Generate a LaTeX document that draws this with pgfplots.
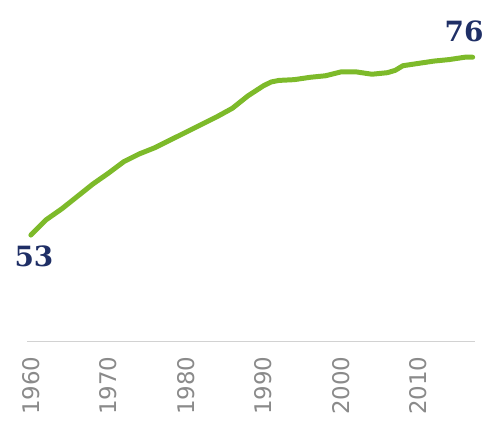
\documentclass[border=0pt]{standalone}
\usepackage{pgfplots}
\pgfplotsset{compat=1.18}
\usepackage{fontspec}
\setmainfont{DejaVu Sans}
\newfontfamily\numfont{DejaVu Serif}
\definecolor{lineg}{HTML}{7DBA2A}
\definecolor{navy}{HTML}{1F2F66}
\definecolor{lbl}{HTML}{8A8A8A}

\begin{document}
\begin{tikzpicture}
  \path[use as bounding box] (-27bp,-87bp) rectangle (462bp,341bp);
  \begin{axis}[
    at={(0,0)}, anchor=south west,
    scale only axis,
    width=448bp, height=341bp,
    xmin=1959.5, xmax=2017.3,
    ymin=39.3, ymax=83.4,
    axis x line=bottom,
    axis y line=none,
    x axis line style={draw=gray!35, line width=0.8pt, -},
    xtick={1960,1970,...,2010},
    major tick length=0pt,
    xticklabel style={rotate=90, anchor=east, xshift=-12bp, font=\fontsize{23}{27}\selectfont, text=lbl},
    /pgf/number format/1000 sep={},
    /pgf/number format/assume math mode=true,
    clip=false,
  ]
    \addplot[lineg, line width=5pt, line join=round, line cap=round] coordinates {
      (1960,53.0) (1962,55.0) (1964,56.4) (1966,58.0) (1968,59.6)
      (1970,61.0) (1972,62.5) (1974,63.5) (1976,64.3) (1978,65.3)
      (1980,66.3) (1982,67.3) (1984,68.3) (1986,69.4) (1988,71.0)
      (1990,72.3) (1991,72.8) (1992,73.0) (1994,73.1) (1996,73.4)
      (1998,73.6) (2000,74.1) (2002,74.1) (2004,73.8) (2006,74.0)
      (2007,74.3) (2008,74.9) (2010,75.2) (2012,75.5) (2014,75.7)
      (2016,76.0) (2017,76.0)
    };
    \node[text=navy, font=\numfont\bfseries\fontsize{28}{32}\selectfont] at (axis cs:1960.4,50.2) {53};
    \node[text=navy, font=\numfont\bfseries\fontsize{28}{32}\selectfont] at (axis cs:2015.9,79.3) {76};
  \end{axis}
\end{tikzpicture}
\end{document}
